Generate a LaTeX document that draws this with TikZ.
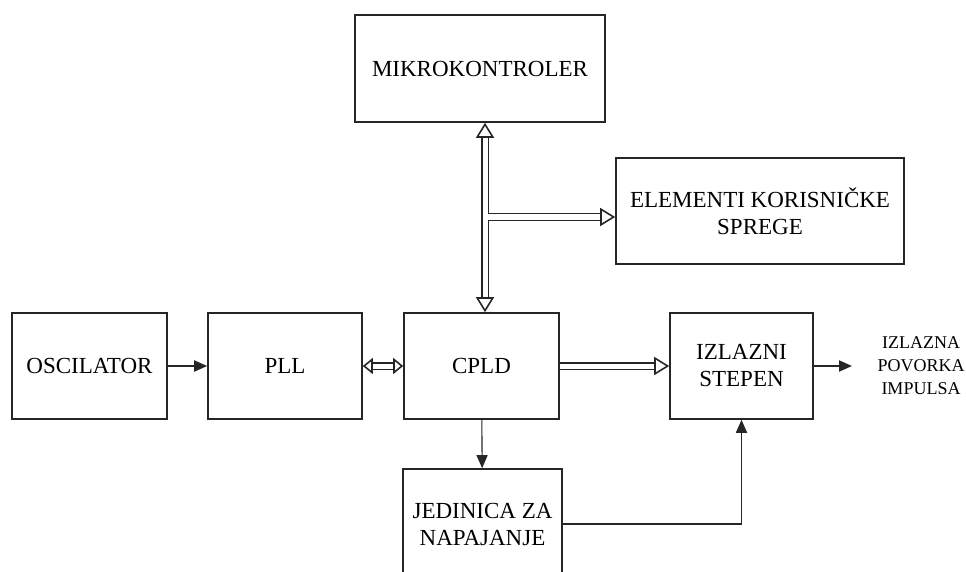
\documentclass[tikz,border=0pt]{standalone}
\usepackage{fontspec}
\setmainfont{Liberation Serif}
\usetikzlibrary{arrows.meta}

\begin{document}
\begin{tikzpicture}[x=1pt,y=-1pt,font=\fontsize{23}{27}\selectfont,
  blok/.style={draw=black!85,line width=1.6pt,align=center,inner sep=0pt},
  signal/.style={draw=black!85,line width=1.8pt,-{Triangle[length=13pt,width=11pt]}},
  bus/.style={draw=black!85,line width=1.6pt,double,double distance=5pt},
  glava/.tip={Triangle[open,length=15pt,width=18pt,line width=1.6pt]},
  kratka/.tip={Triangle[open,length=10pt,width=16pt,line width=1.6pt]}]
\useasboundingbox (0,0) rectangle (966,572);
% blokovi
\node[blok,minimum width=250pt,minimum height=107pt] (mikro) at (480,68.5) {MIKROKONTROLER};
\node[blok,minimum width=288pt,minimum height=106pt] (sprega) at (760,211) {ELEMENTI KORISNIČKE\\SPREGE};
\node[blok,minimum width=155pt,minimum height=106pt] (osc) at (89.5,366) {OSCILATOR};
\node[blok,minimum width=154pt,minimum height=106pt] (pll) at (285,366) {PLL};
\node[blok,minimum width=155pt,minimum height=106pt] (cpld) at (481.5,366) {CPLD};
\node[blok,minimum width=143pt,minimum height=106pt] (izlaz) at (741.5,366) {IZLAZNI\\STEPEN};
\node[blok,minimum width=159pt,minimum height=110pt] (napajanje) at (482.5,524) {JEDINICA ZA\\NAPAJANJE};
\node[font=\fontsize{18}{23}\selectfont,align=center] (povorka) at (921,366) {IZLAZNA\\POVORKA\\IMPULSA};
\coordinate (izlazkraj) at (852,366);
\coordinate (cvor) at (485,217);
% signali
\draw[signal] (osc) -- (pll);
\draw[signal] (izlaz) -- (izlazkraj);
\draw[signal,line width=1.1pt] (cpld) -- (napajanje);
\draw[signal] (napajanje.east) -| (izlaz.south);
% magistrale
\draw[bus,glava-glava] (cvor |- mikro.south) -- (cvor |- cpld.north);
\draw[bus,-glava] (cvor) -- (cvor -| sprega.west);
\draw[white,line width=5pt] ([yshift=-14pt]cvor) -- ([yshift=14pt]cvor);
\draw[bus,kratka-kratka] (pll) -- (cpld);
\draw[bus,-glava] (cpld) -- (izlaz);
\end{tikzpicture}
\end{document}
